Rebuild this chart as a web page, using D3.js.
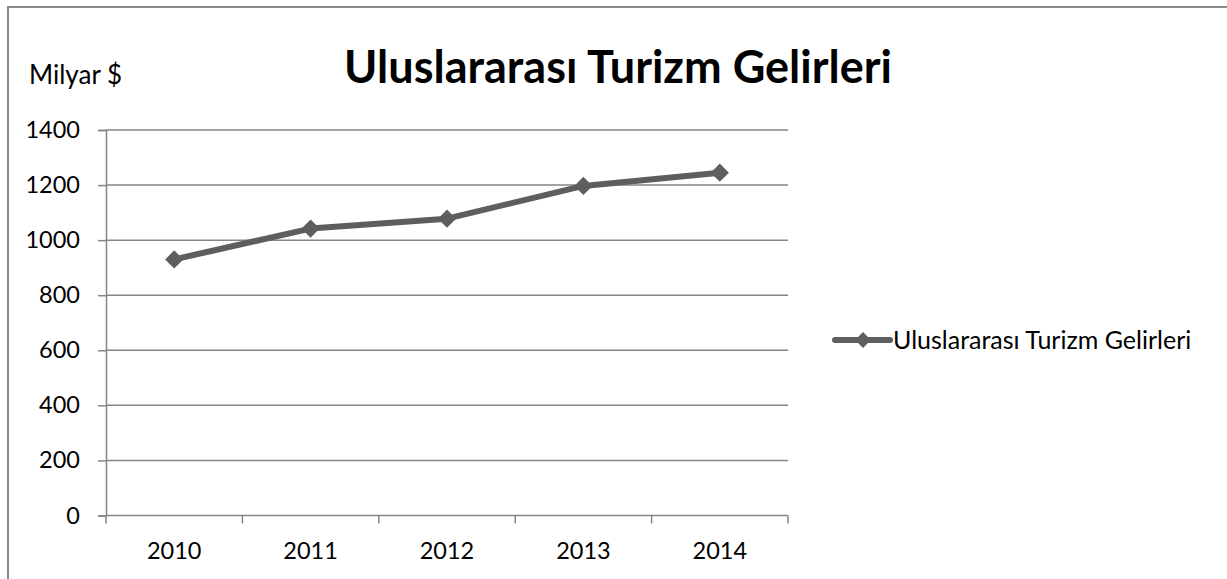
<!DOCTYPE html>
<html>
<head>
<meta charset="utf-8">
<script src="https://cdn.jsdelivr.net/npm/d3@7"></script>
<style>
  body { margin: 0; background: #fff; }
  text { font-family: Lato, "Open Sans", sans-serif; fill: #000; }
</style>
</head>
<body>
<svg id="chart" width="1227" height="579"></svg>
<script>
// chart data
var years = ["2010", "2011", "2012", "2013", "2014"];
var receipts = [930, 1042, 1078, 1197, 1245];
var yTicks = [0, 200, 400, 600, 800, 1000, 1200, 1400];
var seriesName = "Uluslararası Turizm Gelirleri";
var chartTitle = "Uluslararası Turizm Gelirleri";
var yUnit = "Milyar $";

var svg = d3.select("#chart");
var lineColor = "#5e5e5e";
var gridColor = "#868686";

// outer chart border (right and bottom fall outside the picture)
svg.append("rect")
  .attr("x", 8).attr("y", 7)
  .attr("width", 1300).attr("height", 700)
  .attr("fill", "none")
  .attr("stroke", "#8a8a8a")
  .attr("stroke-width", 2);

var plot = { left: 106, right: 788, top: 130, bottom: 515.5 };

var x = d3.scaleBand().domain(years).range([plot.left, plot.right]);
var y = d3.scaleLinear().domain([0, 1400]).range([plot.bottom, plot.top]);

// gridlines
svg.append("g")
  .selectAll("line")
  .data(yTicks.filter(function(d) { return d > 0; }))
  .enter()
  .append("line")
  .attr("x1", plot.left).attr("x2", plot.right)
  .attr("y1", function(d) { return y(d); })
  .attr("y2", function(d) { return y(d); })
  .attr("stroke", gridColor)
  .attr("stroke-width", 1.5);

// y axis
var yAxis = svg.append("g")
  .attr("transform", "translate(" + plot.left + ",0)")
  .call(d3.axisLeft(y).tickValues(yTicks).tickFormat(d3.format("d")).tickSize(8).tickPadding(18));
yAxis.select(".domain").attr("stroke", gridColor).attr("stroke-width", 1.5);
yAxis.selectAll(".tick line").attr("stroke", gridColor).attr("stroke-width", 1.5);
yAxis.selectAll(".tick text")
  .style("font-size", "23.5px")
  .style("font-family", "Lato, sans-serif");

// x axis: ticks sit on the band edges, labels in the middle
var xAxisG = svg.append("g").attr("transform", "translate(0," + plot.bottom + ")");
xAxisG.append("line")
  .attr("x1", plot.left).attr("x2", plot.right)
  .attr("stroke", gridColor).attr("stroke-width", 1.5);
var edges = years.map(function(d) { return x(d); }).concat([x(years[years.length - 1]) + x.bandwidth()]);
xAxisG.selectAll(".edge")
  .data(edges)
  .enter()
  .append("line")
  .attr("class", "edge")
  .attr("x1", function(d) { return d; })
  .attr("x2", function(d) { return d; })
  .attr("y1", 0).attr("y2", 8)
  .attr("stroke", gridColor).attr("stroke-width", 1.5);
xAxisG.selectAll(".lab")
  .data(years)
  .enter()
  .append("text")
  .attr("class", "lab")
  .attr("x", function(d) { return x(d) + x.bandwidth() / 2; })
  .attr("y", 43)
  .attr("text-anchor", "middle")
  .style("font-size", "23.5px")
  .text(function(d) { return d; });

// series line
var pts = years.map(function(d, i) { return { year: d, value: receipts[i] }; });
var line = d3.line()
  .x(function(d) { return x(d.year) + x.bandwidth() / 2; })
  .y(function(d) { return y(d.value); });

svg.append("path")
  .datum(pts)
  .attr("d", line)
  .attr("fill", "none")
  .attr("stroke", lineColor)
  .attr("stroke-width", 6)
  .attr("stroke-linejoin", "round");

var diamond = d3.symbol().type(d3.symbolDiamond2).size(210);
svg.selectAll(".marker")
  .data(pts)
  .enter()
  .append("path")
  .attr("class", "marker")
  .attr("d", diamond)
  .attr("transform", function(d) {
    return "translate(" + (x(d.year) + x.bandwidth() / 2) + "," + y(d.value) + ")";
  })
  .attr("fill", lineColor);

// title and unit label
svg.append("text")
  .attr("x", 618).attr("y", 83)
  .attr("text-anchor", "middle")
  .style("font-size", "45px")
  .style("font-weight", "bold")
  .text(chartTitle);

svg.append("text")
  .attr("x", 29).attr("y", 84)
  .style("font-size", "26px")
  .text(yUnit);

// legend
var legend = svg.append("g").attr("transform", "translate(835,340)");
legend.append("line")
  .attr("x1", 0).attr("x2", 55)
  .attr("stroke", lineColor).attr("stroke-width", 6)
  .attr("stroke-linecap", "round");
legend.append("path")
  .attr("d", d3.symbol().type(d3.symbolDiamond2).size(160))
  .attr("transform", "translate(28,0)")
  .attr("fill", lineColor);
legend.append("text")
  .attr("x", 58).attr("y", 9)
  .style("font-size", "25px")
  .text(seriesName);
</script>
</body>
</html>
